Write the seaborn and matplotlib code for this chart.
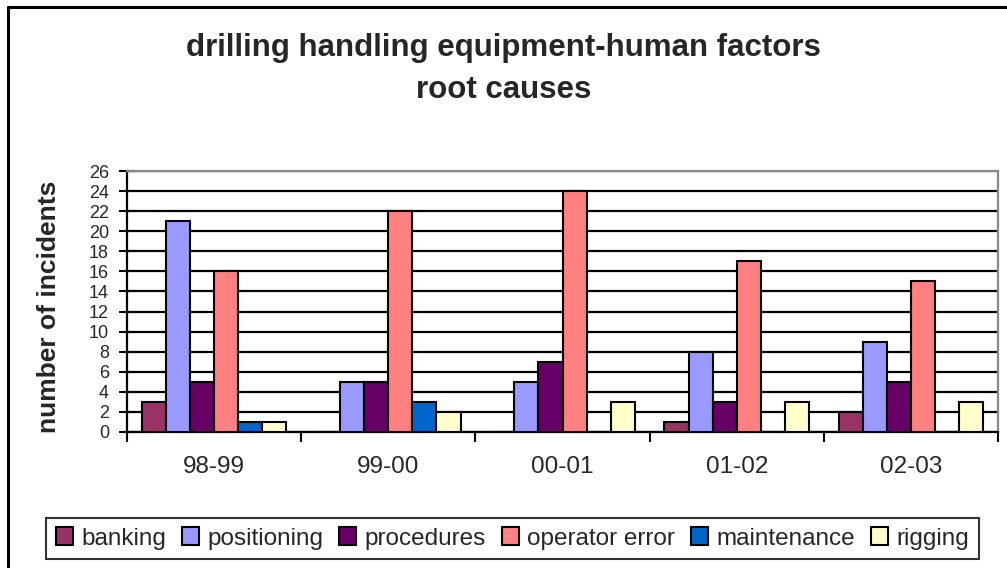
import matplotlib
matplotlib.use("Agg")
import matplotlib.pyplot as plt
import seaborn as sns
import pandas as pd
from matplotlib.lines import Line2D

periods = ["98-99", "99-00", "00-01", "01-02", "02-03"]
causes = ["banking", "positioning", "procedures", "operator error", "maintenance", "rigging"]
banking = [3, 0, 0, 1, 2]
positioning = [21, 5, 5, 8, 9]
procedures = [5, 5, 7, 3, 5]
operator_error = [16, 22, 24, 17, 15]
maintenance = [1, 3, 0, 0, 0]
rigging = [1, 2, 3, 3, 3]
colors = ["#993366", "#9999FF", "#660066", "#FF8080", "#0066CC", "#FFFFCC"]
y_ticks = list(range(0, 27, 2))

series = [banking, positioning, procedures, operator_error, maintenance, rigging]
rows = []
for cause, vals in zip(causes, series):
    for p, v in zip(periods, vals):
        rows.append({"period": p, "cause": cause, "incidents": v})
df = pd.DataFrame(rows)

sns.set_style("white")
plt.rcParams["font.family"] = ["Liberation Sans", "DejaVu Sans"]

fig = plt.figure(figsize=(10.07, 5.68), dpi=100)
ax = fig.add_axes([127 / 1007, 1 - 432 / 568, 871 / 1007, 261 / 568])

sns.barplot(data=df, x="period", y="incidents", hue="cause", order=periods,
            hue_order=causes, palette=colors, width=0.83, gap=0,
            edgecolor="black", linewidth=1.5, saturation=1, ax=ax, legend=True,
            zorder=3)

ax.set_xlim(-0.5, len(periods) - 0.5)
ax.set_ylim(0, 26)
ax.set_yticks(y_ticks)
ax.set_yticklabels([str(t) for t in y_ticks], fontsize=13)
ax.yaxis.grid(True, color="black", linewidth=1.6, zorder=0)
ax.set_axisbelow(True)

# category labels centred, tick marks on the category boundaries
ax.set_xticks(range(len(periods)))
ax.set_xticklabels(periods, fontsize=17.5)
ax.tick_params(axis="x", which="major", length=0, pad=17)
ax.set_xticks([i - 0.5 for i in range(len(periods) + 1)], minor=True)
ax.tick_params(axis="x", which="minor", length=7, width=1.5, color="black",
               direction="out", bottom=True)
ax.tick_params(axis="y", which="major", length=12, width=1.5, color="black",
               direction="inout", left=True, pad=7)
ax.set_xlabel("")
ax.set_ylabel("number of incidents", fontsize=19, fontweight="bold")
ax.yaxis.label.set_va("center")
ax.yaxis.set_label_coords((49 - 127) / 871, 0.48)

for side in ["left", "bottom"]:
    ax.spines[side].set_color("black")
    ax.spines[side].set_linewidth(1.6)
for side in ["top", "right"]:
    ax.spines[side].set_visible(True)
    ax.spines[side].set_color("#888888")
    ax.spines[side].set_linewidth(1.6)

handles, labels = ax.get_legend_handles_labels()
ax.get_legend().remove()
leg = fig.legend(handles, labels, loc="center",
                 bbox_to_anchor=(512.5 / 1007, 1 - 538.5 / 568), ncol=6,
                 fontsize=17.5, frameon=True, fancybox=False, edgecolor="black",
                 handlelength=0.7, handleheight=0.7, handletextpad=0.35,
                 columnspacing=0.65, borderpad=0.4, borderaxespad=0)
leg.get_frame().set_linewidth(1.5)

fig.text(0.5, 1 - 48 / 568, "drilling handling equipment-human factors",
         ha="center", va="center", fontsize=22.5, fontweight="bold")
fig.text(0.5, 1 - 90 / 568, "root causes",
         ha="center", va="center", fontsize=22.5, fontweight="bold")

# outer chart border (left and top edges)
fig.add_artist(Line2D([7.5 / 1007, 7.5 / 1007], [0, 1 - 7 / 568], color="black",
                      linewidth=2.2, transform=fig.transFigure))
fig.add_artist(Line2D([7.5 / 1007, 1], [1 - 7 / 568, 1 - 7 / 568], color="black",
                      linewidth=2.2, transform=fig.transFigure))

fig.savefig("out.png", dpi=100)
